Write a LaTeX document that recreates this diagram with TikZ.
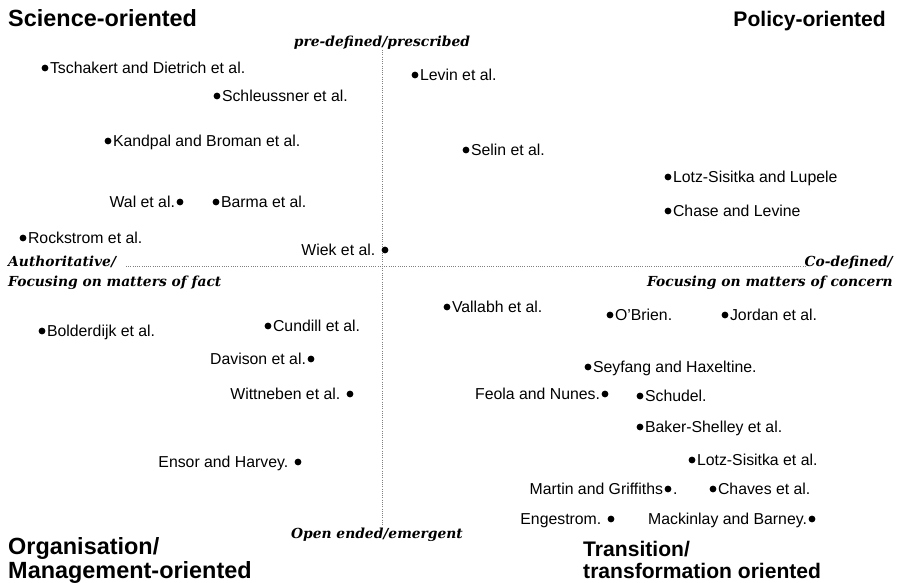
\documentclass[tikz,border=0pt]{standalone}
\usepackage{fontspec}
\setmainfont{Liberation Sans}
\newfontfamily\polefont{DejaVu Serif}

\begin{document}
\begin{tikzpicture}[x=0.03cm, y=-0.03cm]
  \tikzstyle{dot} = [circle, fill=black, inner sep=0pt, minimum size=5.8pt]
  \tikzstyle{ref} = [font=\fontsize{13.5}{15}\selectfont, inner sep=1pt, text height=9.7pt, text depth=0pt]
  \tikzstyle{corner} = [font=\fontsize{18}{18}\selectfont\bfseries, inner sep=0pt, align=left]
  \tikzstyle{bigcorner} = [corner, font=\fontsize{20}{18}\selectfont\bfseries]
  \tikzstyle{pole} = [font=\polefont\bfseries\itshape\fontsize{11.8}{16.5}\selectfont, inner sep=0pt]
  \tikzstyle{axis} = [gray, line width=0.7pt, dash pattern=on 0.7pt off 1.2pt]
  \useasboundingbox (0,0) rectangle (900,582);

  % corner titles
  \node (science) [bigcorner, anchor=base west] at (8,26) {Science-oriented};
  \node (policy) [corner, anchor=base east] at (886,26) {Policy-oriented};
  \node (organisation) [bigcorner, anchor=base west] at (8,578) {Organisation/\\Management-oriented};
  \node (transition) [corner, anchor=base west] at (583,578) {Transition/\\transformation oriented};

  % axes
  \node (prescribed) [pole, anchor=base] at (382,46) {pre-defined/prescribed};
  \node (emergent) [pole, anchor=base] at (377,538) {Open ended/emergent};
  \node (fact) [pole, anchor=base west, align=left] at (8,286) {Authoritative/\\Focusing on matters of fact};
  \node (concern) [pole, anchor=base east, align=right] at (893,286) {Co-defined/\\Focusing on matters of concern};
  \coordinate (topend) at (382,50);
  \coordinate (bottomend) at (382,525);
  \coordinate (leftend) at (126,266);
  \coordinate (rightend) at (805,266);
  \draw[axis] (topend) -- (bottomend);
  \draw[axis] (leftend) -- (rightend);

  % studies
  \node (tschakert) [dot, label={[ref]right:Tschakert and Dietrich et al.}] at (45,68) {};
  \node (schleussner) [dot, label={[ref]right:Schleussner et al.}] at (217,96) {};
  \node (levin) [dot, label={[ref]right:Levin et al.}] at (415,75) {};
  \node (kandpal) [dot, label={[ref]right:Kandpal and Broman et al.}] at (108,141) {};
  \node (selin) [dot, label={[ref]right:Selin et al.}] at (466,150) {};
  \node (lotzlupele) [dot, label={[ref]right:Lotz-Sisitka and Lupele}] at (668,177) {};
  \node (chase) [dot, label={[ref]right:Chase and Levine}] at (668,211) {};
  \node (wal) [dot, label={[ref]left:Wal et al.}] at (180,202) {};
  \node (barma) [dot, label={[ref]right:Barma et al.}] at (216,202) {};
  \node (rockstrom) [dot, label={[ref]right:Rockstrom et al.}] at (23,238) {};
  \node (wiek) [dot, label={[ref, xshift=-4pt]left:Wiek et al.}] at (385,250) {};
  \node (vallabh) [dot, label={[ref]right:Vallabh et al.}] at (447,307) {};
  \node (obrien) [dot, label={[ref]right:O’Brien.}] at (610,315) {};
  \node (jordan) [dot, label={[ref]right:Jordan et al.}] at (725,315) {};
  \node (bolderdijk) [dot, label={[ref]right:Bolderdijk et al.}] at (42,331) {};
  \node (cundill) [dot, label={[ref]right:Cundill et al.}] at (268,326) {};
  \node (davison) [dot, label={[ref]left:Davison et al.}] at (311,359) {};
  \node (seyfang) [dot, label={[ref]right:Seyfang and Haxeltine.}] at (588,367) {};
  \node (wittneben) [dot, label={[ref, xshift=-4pt]left:Wittneben et al.}] at (350,394) {};
  \node (feola) [dot, label={[ref]left:Feola and Nunes.}] at (605,394) {};
  \node (schudel) [dot, label={[ref]right:Schudel.}] at (640,396) {};
  \node (baker) [dot, label={[ref]right:Baker-Shelley et al.}] at (640,427) {};
  \node (ensor) [dot, label={[ref, xshift=-4pt]left:Ensor and Harvey.}] at (298,462) {};
  \node (lotzetal) [dot, label={[ref]right:Lotz-Sisitka et al.}] at (692,460) {};
  \node (martin) [dot, label={[ref]left:Martin and Griffiths}, label={[ref]right:.}] at (668,489) {};
  \node (chaves) [dot, label={[ref]right:Chaves et al.}] at (713,489) {};
  \node (engestrom) [dot, label={[ref, xshift=-4pt]left:Engestrom.}] at (611,519) {};
  \node (mackinlay) [dot, label={[ref]left:Mackinlay and Barney.}] at (812,519) {};
\end{tikzpicture}
\end{document}
